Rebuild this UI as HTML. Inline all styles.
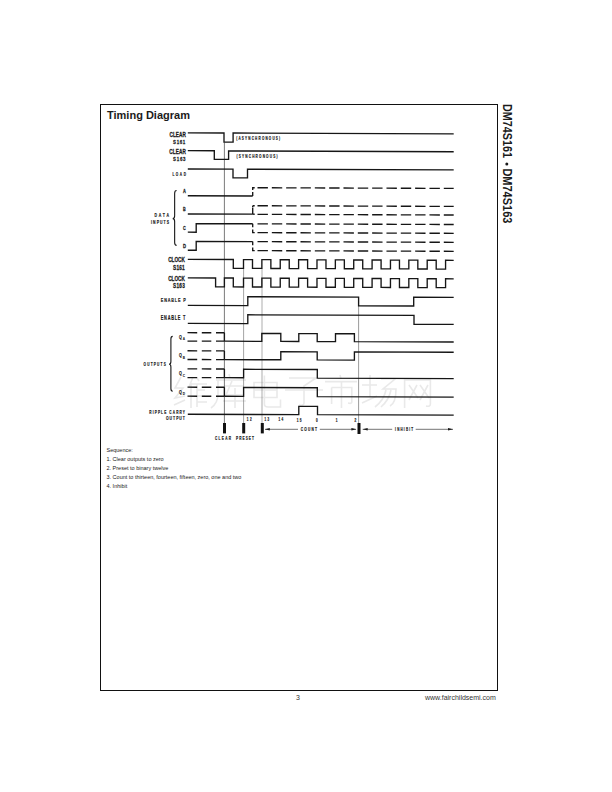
<!DOCTYPE html>
<html><head><meta charset="utf-8"><style>
html,body{margin:0;padding:0;background:#fff;}
body{width:612px;height:792px;position:relative;overflow:hidden;font-family:"Liberation Sans",sans-serif;}
.box{position:absolute;left:100px;top:104px;width:396px;height:585px;border:1px solid #111;}
.title{position:absolute;left:107px;top:107px;font-weight:bold;font-size:11px;line-height:16px;color:#1b1b1b;white-space:nowrap;}
.side{position:absolute;left:503px;top:104px;font-weight:bold;font-size:13px;color:#1b1b1b;white-space:nowrap;transform-origin:0 0;transform:translate(13px,0) rotate(90deg);line-height:13px;}
.seq{position:absolute;left:106.5px;font-size:5.5px;line-height:6px;color:#222;white-space:nowrap;}
.foot{position:absolute;font-size:7px;line-height:8px;color:#333;white-space:nowrap;}
svg{position:absolute;left:0;top:0;}
svg text{font-family:"Liberation Sans",sans-serif;}
</style></head><body>
<div class="box"></div>
<div class="title">Timing Diagram</div>
<svg width="612" height="792" viewBox="0 0 612 792">
<path d="M404.6,408 V380 H430.4 V404 Q430.4,407 426,406 M409,385 L418,398 M417,385 L409,400 M420,385 L429,398 M428,385 L420,400" fill="none" stroke="#e9e9e9" stroke-width="1.6"/>
<path d="M362,385 H377 M370,375 V397 M362,403 L377,396 M381,379 H395 L383,389 H396 Q396,403 390,406 M386,390 Q384,400 375,407 M391,390 Q389,400 381,407" fill="none" stroke="#e9e9e9" stroke-width="1.6"/>
<path d="M340,375 L341,379 M325,381.6 H357 M331.6,387.5 V404 M331.6,387.5 H351.8 V402 Q351.8,404 348,403 M341.5,381.6 V408" fill="none" stroke="#e9e9e9" stroke-width="1.6"/>
<path d="M289,378 H316 L304,386 V403 Q304,406 299,405 M285,390 H323" fill="none" stroke="#e9e9e9" stroke-width="1.6"/>
<path d="M254,382.5 H277 V397.5 H254 Z M254,390 H277 M264.4,375.5 V404 Q264.4,407 268,407 H280.5 V399.5" fill="none" stroke="#e9e9e9" stroke-width="1.6"/>
<path d="M229,374 L230,378 M216,380 H246 M218,380 V394 Q218,403 211,408 M224,386 H243 M232,381 L226,395 H243 M223,401 H246 M235,388 V408" fill="none" stroke="#e9e9e9" stroke-width="1.6"/>
<path d="M181,377 L175,388 L183,388 L175,398 L185,396 M174,405 L185,400 M193,377 L189,387 M191,383 V408 M197,378 L199,381 M191,384 H207 M197,384 V407 M197,390 H205 M197,396 H205 M197,402 H207" fill="none" stroke="#e9e9e9" stroke-width="1.6"/>
<path d="M224.4,142.5 V423" fill="none" stroke="#333" stroke-width="0.65" />
<path d="M243.6,268.5 V423" fill="none" stroke="#666" stroke-width="0.6" />
<path d="M262.0,268.5 V423" fill="none" stroke="#777" stroke-width="0.6" />
<path d="M358.6,305.5 V423" fill="none" stroke="#555" stroke-width="0.6" />
<g transform="matrix(1,0.0035,0,1,0,-0.7875)">
<path d="M187.80,133.00 L224.00,133.00 L224.00,142.10 L233.10,142.10 L233.10,133.00 L453.70,133.00" fill="none" stroke="#161616" stroke-width="1.35" />
<path d="M187.80,150.80 L214.30,150.80 L214.30,159.30 L228.60,159.30 L228.60,150.90 L453.70,150.90" fill="none" stroke="#161616" stroke-width="1.35" />
<path d="M187.80,169.10 L233.00,169.10 L233.00,177.80 L247.50,177.80 L247.50,169.10 L453.70,169.10" fill="none" stroke="#161616" stroke-width="1.35" />
<path d="M187.80,195.90 L252.70,195.90" fill="none" stroke="#161616" stroke-width="1.35" />
<path d="M252.7,195.9 V192 M252.7,190 V187.6 H254.7" fill="none" stroke="#161616" stroke-width="1.35" />
<path d="M257.50,187.60 H267.90 M271.83,187.60 H282.23 M286.16,187.60 H296.56 M300.49,187.60 H310.89 M314.82,187.60 H325.22 M329.15,187.60 H339.55 M343.48,187.60 H353.88 M357.81,187.60 H368.21 M372.14,187.60 H382.54 M386.47,187.60 H396.87 M400.80,187.60 H411.20 M415.13,187.60 H425.53 M429.46,187.60 H439.86 M443.79,187.60 H453.70" fill="none" stroke="#161616" stroke-width="1.35" />
<path d="M187.80,214.10 L252.70,214.10" fill="none" stroke="#161616" stroke-width="1.35" />
<path d="M252.7,214.1 V208 M252.7,205.6 H254.7 M252.7,205.6 V207.5" fill="none" stroke="#161616" stroke-width="1.35" />
<path d="M257.50,205.60 H267.90 M271.83,205.60 H282.23 M286.16,205.60 H296.56 M300.49,205.60 H310.89 M314.82,205.60 H325.22 M329.15,205.60 H339.55 M343.48,205.60 H353.88 M357.81,205.60 H368.21 M372.14,205.60 H382.54 M386.47,205.60 H396.87 M400.80,205.60 H411.20 M415.13,205.60 H425.53 M429.46,205.60 H439.86 M443.79,205.60 H453.70" fill="none" stroke="#161616" stroke-width="1.35" />
<path d="M257.50,214.20 H267.90 M271.83,214.20 H282.23 M286.16,214.20 H296.56 M300.49,214.20 H310.89 M314.82,214.20 H325.22 M329.15,214.20 H339.55 M343.48,214.20 H353.88 M357.81,214.20 H368.21 M372.14,214.20 H382.54 M386.47,214.20 H396.87 M400.80,214.20 H411.20 M415.13,214.20 H425.53 M429.46,214.20 H439.86 M443.79,214.20 H453.70" fill="none" stroke="#161616" stroke-width="1.35" />
<path d="M252.7,214.1 H254.7" fill="none" stroke="#161616" stroke-width="1.35" />
<path d="M187.80,232.30 L196.20,232.30 L196.20,223.70 L252.70,223.70" fill="none" stroke="#161616" stroke-width="1.35" />
<path d="M252.7,223.7 V227.2 M252.7,229.3 V232.5 H254.7" fill="none" stroke="#161616" stroke-width="1.35" />
<path d="M257.50,223.70 H267.90 M271.83,223.70 H282.23 M286.16,223.70 H296.56 M300.49,223.70 H310.89 M314.82,223.70 H325.22 M329.15,223.70 H339.55 M343.48,223.70 H353.88 M357.81,223.70 H368.21 M372.14,223.70 H382.54 M386.47,223.70 H396.87 M400.80,223.70 H411.20 M415.13,223.70 H425.53 M429.46,223.70 H439.86 M443.79,223.70 H453.70" fill="none" stroke="#161616" stroke-width="1.35" />
<path d="M257.50,232.50 H267.90 M271.83,232.50 H282.23 M286.16,232.50 H296.56 M300.49,232.50 H310.89 M314.82,232.50 H325.22 M329.15,232.50 H339.55 M343.48,232.50 H353.88 M357.81,232.50 H368.21 M372.14,232.50 H382.54 M386.47,232.50 H396.87 M400.80,232.50 H411.20 M415.13,232.50 H425.53 M429.46,232.50 H439.86 M443.79,232.50 H453.70" fill="none" stroke="#161616" stroke-width="1.35" />
<path d="M187.80,250.40 L196.20,250.40 L196.20,241.50 L252.70,241.50" fill="none" stroke="#161616" stroke-width="1.35" />
<path d="M252.7,241.5 V245.2 M252.7,247.3 V250.5 H254.7" fill="none" stroke="#161616" stroke-width="1.35" />
<path d="M257.50,241.50 H267.90 M271.83,241.50 H282.23 M286.16,241.50 H296.56 M300.49,241.50 H310.89 M314.82,241.50 H325.22 M329.15,241.50 H339.55 M343.48,241.50 H353.88 M357.81,241.50 H368.21 M372.14,241.50 H382.54 M386.47,241.50 H396.87 M400.80,241.50 H411.20 M415.13,241.50 H425.53 M429.46,241.50 H439.86 M443.79,241.50 H453.70" fill="none" stroke="#161616" stroke-width="1.35" />
<path d="M257.50,250.50 H267.90 M271.83,250.50 H282.23 M286.16,250.50 H296.56 M300.49,250.50 H310.89 M314.82,250.50 H325.22 M329.15,250.50 H339.55 M343.48,250.50 H353.88 M357.81,250.50 H368.21 M372.14,250.50 H382.54 M386.47,250.50 H396.87 M400.80,250.50 H411.20 M415.13,250.50 H425.53 M429.46,250.50 H439.86 M443.79,250.50 H453.70" fill="none" stroke="#161616" stroke-width="1.35" />
<path d="M187.80,259.50 L233.30,259.50 L233.30,268.30 L243.50,268.30 L243.50,259.50 L252.50,259.50 L252.50,268.30 L261.87,268.30 L261.87,259.50 L270.87,259.50 L270.87,268.30 L280.24,268.30 L280.24,259.50 L289.24,259.50 L289.24,268.30 L298.61,268.30 L298.61,259.50 L307.61,259.50 L307.61,268.30 L316.98,268.30 L316.98,259.50 L325.98,259.50 L325.98,268.30 L335.35,268.30 L335.35,259.50 L344.35,259.50 L344.35,268.30 L353.72,268.30 L353.72,259.50 L362.72,259.50 L362.72,268.30 L372.09,268.30 L372.09,259.50 L381.09,259.50 L381.09,268.30 L390.46,268.30 L390.46,259.50 L399.46,259.50 L399.46,268.30 L408.83,268.30 L408.83,259.50 L417.83,259.50 L417.83,268.30 L427.20,268.30 L427.20,259.50 L436.20,259.50 L436.20,268.30 L445.57,268.30 L445.57,259.50 L453.70,259.50" fill="none" stroke="#161616" stroke-width="1.35" />
<path d="M187.80,278.00 L215.60,278.00 L215.60,286.90 L224.40,286.90 L224.40,278.00 L233.30,278.00 L233.30,286.90 L243.50,286.90 L243.50,278.00 L252.50,278.00 L252.50,286.90 L261.87,286.90 L261.87,278.00 L270.87,278.00 L270.87,286.90 L280.24,286.90 L280.24,278.00 L289.24,278.00 L289.24,286.90 L298.61,286.90 L298.61,278.00 L307.61,278.00 L307.61,286.90 L316.98,286.90 L316.98,278.00 L325.98,278.00 L325.98,286.90 L335.35,286.90 L335.35,278.00 L344.35,278.00 L344.35,286.90 L353.72,286.90 L353.72,278.00 L362.72,278.00 L362.72,286.90 L372.09,286.90 L372.09,278.00 L381.09,278.00 L381.09,286.90 L390.46,286.90 L390.46,278.00 L399.46,278.00 L399.46,286.90 L408.83,286.90 L408.83,278.00 L417.83,278.00 L417.83,286.90 L427.20,286.90 L427.20,278.00 L436.20,278.00 L436.20,286.90 L445.57,286.90 L445.57,278.00 L453.70,278.00" fill="none" stroke="#161616" stroke-width="1.35" />
<path d="M187.80,305.50 L247.80,305.50 L247.80,296.60 L358.60,296.60 L358.60,305.30 L413.70,305.30 L413.70,296.60 L453.70,296.60" fill="none" stroke="#161616" stroke-width="1.35" />
<path d="M187.80,323.50 L247.80,323.50 L247.80,314.70 L414.00,314.70 L414.00,323.60 L453.70,323.60" fill="none" stroke="#161616" stroke-width="1.35" />
<path d="M187.50,332.80 H197.20 M201.80,332.80 H211.30 M216.00,332.80 H224.40" fill="none" stroke="#161616" stroke-width="1.35" />
<path d="M187.50,341.20 H197.20 M201.80,341.20 H211.30 M216.00,341.20 H224.40" fill="none" stroke="#161616" stroke-width="1.35" />
<path d="M224.4,332.8 V341.2" fill="none" stroke="#161616" stroke-width="1.35" />
<path d="M224.40,341.20 L261.80,341.20 L261.80,333.30 L280.80,333.30 L280.80,341.20 L298.80,341.20 L298.80,333.30 L317.20,333.30 L317.20,341.20 L335.50,341.20 L335.50,333.30 L354.40,333.30 L354.40,341.20 L453.70,341.20" fill="none" stroke="#161616" stroke-width="1.35" />
<path d="M187.50,350.90 H197.20 M201.80,350.90 H211.30 M216.00,350.90 H224.40" fill="none" stroke="#161616" stroke-width="1.35" />
<path d="M187.50,359.60 H197.20 M201.80,359.60 H211.30 M216.00,359.60 H224.40" fill="none" stroke="#161616" stroke-width="1.35" />
<path d="M224.4,350.9 V359.6" fill="none" stroke="#161616" stroke-width="1.35" />
<path d="M224.40,359.60 L280.80,359.60 L280.80,351.60 L317.20,351.60 L317.20,359.60 L354.40,359.60 L354.40,351.40 L453.70,351.40" fill="none" stroke="#161616" stroke-width="1.35" />
<path d="M187.50,369.00 H197.20 M201.80,369.00 H211.30 M216.00,369.00 H224.40" fill="none" stroke="#161616" stroke-width="1.35" />
<path d="M187.50,377.70 H197.20 M201.80,377.70 H211.30 M216.00,377.70 H224.40" fill="none" stroke="#161616" stroke-width="1.35" />
<path d="M224.4,369.0 V377.7" fill="none" stroke="#161616" stroke-width="1.35" />
<path d="M224.40,377.70 L243.60,377.70 L243.60,369.20 L317.30,369.20 L317.30,377.80 L453.70,377.80" fill="none" stroke="#161616" stroke-width="1.35" />
<path d="M187.50,387.30 H197.20 M201.80,387.30 H211.30 M216.00,387.30 H224.40" fill="none" stroke="#161616" stroke-width="1.35" />
<path d="M187.50,396.30 H197.20 M201.80,396.30 H211.30 M216.00,396.30 H224.40" fill="none" stroke="#161616" stroke-width="1.35" />
<path d="M224.4,387.3 V396.3" fill="none" stroke="#161616" stroke-width="1.35" />
<path d="M224.40,396.30 L243.60,396.30 L243.60,387.40 L317.30,387.40 L317.30,396.30 L453.70,396.30" fill="none" stroke="#161616" stroke-width="1.35" />
<path d="M187.80,414.40 L298.80,414.40 L298.80,406.10 L317.50,406.10 L317.50,414.30 L453.70,414.30" fill="none" stroke="#161616" stroke-width="1.35" />
</g>
<rect x="223.00" y="423.00" width="3.00" height="10.40" fill="#111"/>
<rect x="242.20" y="423.00" width="3.00" height="10.40" fill="#111"/>
<rect x="260.80" y="423.00" width="3.00" height="10.40" fill="#111"/>
<rect x="357.50" y="423.00" width="3.00" height="11.00" fill="#111"/>
<path d="M265,429.3 H298 M319.8,429.3 H356" fill="none" stroke="#161616" stroke-width="0.6" />
<path d="M264.80,429.30 L269.80,428.00 L269.80,430.60 Z" fill="#1b1b1b"/>
<path d="M356.40,429.30 L351.40,428.00 L351.40,430.60 Z" fill="#1b1b1b"/>
<path d="M362.7,429.3 H392.2 M415.7,429.3 H453" fill="none" stroke="#161616" stroke-width="0.6" />
<path d="M362.70,429.30 L367.70,428.00 L367.70,430.60 Z" fill="#1b1b1b"/>
<path d="M453.00,429.30 L448.00,428.00 L448.00,430.60 Z" fill="#1b1b1b"/>
<path d="M176.6,190.5 Q174.64999999999998,190.5 174.64999999999998,193.425 L174.64999999999998,215.67499999999998 Q174.64999999999998,218.6 172.7,218.6 Q174.64999999999998,218.6 174.64999999999998,221.525 L174.64999999999998,242.475 Q174.64999999999998,245.4 176.6,245.4" fill="none" stroke="#161616" stroke-width="1.1" />
<path d="M172.7,336.4 Q170.89999999999998,336.4 170.89999999999998,339.09999999999997 L170.89999999999998,361.5 Q170.89999999999998,364.2 169.1,364.2 Q170.89999999999998,364.2 170.89999999999998,366.9 L170.89999999999998,388.5 Q170.89999999999998,391.2 172.7,391.2" fill="none" stroke="#161616" stroke-width="1.1" />
<text transform="translate(503,103.9) rotate(90)" x="0" y="0" font-size="13.1" font-weight="bold" fill="#1b1b1b" textLength="54" lengthAdjust="spacingAndGlyphs">DM74S161</text>
<circle cx="506.8" cy="164" r="1.5" fill="#1b1b1b"/>
<text transform="translate(503,168.4) rotate(90)" x="0" y="0" font-size="13.1" font-weight="bold" fill="#1b1b1b" textLength="55" lengthAdjust="spacingAndGlyphs">DM74S163</text>
<text transform="translate(169.50,136.80) scale(0.72,1)" x="0" y="0" font-size="6.54" font-weight="bold" fill="#1b1b1b" stroke="#1b1b1b" stroke-width="0.28" textLength="22.64" lengthAdjust="spacing">CLEAR</text>
<text transform="translate(173.10,144.00) scale(0.72,1)" x="0" y="0" font-size="6.10" font-weight="bold" fill="#1b1b1b" stroke="#1b1b1b" stroke-width="0.28" textLength="16.94" lengthAdjust="spacing">S161</text>
<text transform="translate(169.30,153.80) scale(0.72,1)" x="0" y="0" font-size="6.54" font-weight="bold" fill="#1b1b1b" stroke="#1b1b1b" stroke-width="0.28" textLength="22.92" lengthAdjust="spacing">CLEAR</text>
<text transform="translate(173.10,161.00) scale(0.72,1)" x="0" y="0" font-size="6.10" font-weight="bold" fill="#1b1b1b" stroke="#1b1b1b" stroke-width="0.28" textLength="17.22" lengthAdjust="spacing">S163</text>
<text transform="translate(172.40,175.80) scale(0.6,1)" x="0" y="0" font-size="5.23" font-weight="bold" fill="#1b1b1b" stroke="#1b1b1b" stroke-width="0.22" textLength="22.50" lengthAdjust="spacing">LOAD</text>
<text transform="translate(183.00,193.00) scale(0.72,1)" x="0" y="0" font-size="5.52" font-weight="bold" fill="#1b1b1b" stroke="#1b1b1b" stroke-width="0.28" textLength="3.89" lengthAdjust="spacing">A</text>
<text transform="translate(183.00,211.00) scale(0.72,1)" x="0" y="0" font-size="5.09" font-weight="bold" fill="#1b1b1b" stroke="#1b1b1b" stroke-width="0.28" textLength="3.89" lengthAdjust="spacing">B</text>
<text transform="translate(183.00,230.00) scale(0.72,1)" x="0" y="0" font-size="5.23" font-weight="bold" fill="#1b1b1b" stroke="#1b1b1b" stroke-width="0.28" textLength="3.89" lengthAdjust="spacing">C</text>
<text transform="translate(183.00,248.00) scale(0.72,1)" x="0" y="0" font-size="5.81" font-weight="bold" fill="#1b1b1b" stroke="#1b1b1b" stroke-width="0.28" textLength="3.89" lengthAdjust="spacing">D</text>
<text transform="translate(154.60,217.30) scale(0.6,1)" x="0" y="0" font-size="5.81" font-weight="bold" fill="#1b1b1b" stroke="#1b1b1b" stroke-width="0.22" textLength="24.00" lengthAdjust="spacing">DATA</text>
<text transform="translate(151.10,223.80) scale(0.6,1)" x="0" y="0" font-size="5.67" font-weight="bold" fill="#1b1b1b" stroke="#1b1b1b" stroke-width="0.22" textLength="29.83" lengthAdjust="spacing">INPUTS</text>
<text transform="translate(168.20,262.30) scale(0.72,1)" x="0" y="0" font-size="6.54" font-weight="bold" fill="#1b1b1b" stroke="#1b1b1b" stroke-width="0.28" textLength="23.06" lengthAdjust="spacing">CLOCK</text>
<text transform="translate(173.00,269.60) scale(0.72,1)" x="0" y="0" font-size="6.69" font-weight="bold" fill="#1b1b1b" stroke="#1b1b1b" stroke-width="0.28" textLength="16.39" lengthAdjust="spacing">S161</text>
<text transform="translate(168.20,281.00) scale(0.72,1)" x="0" y="0" font-size="6.54" font-weight="bold" fill="#1b1b1b" stroke="#1b1b1b" stroke-width="0.28" textLength="23.06" lengthAdjust="spacing">CLOCK</text>
<text transform="translate(173.00,288.20) scale(0.72,1)" x="0" y="0" font-size="6.54" font-weight="bold" fill="#1b1b1b" stroke="#1b1b1b" stroke-width="0.28" textLength="16.39" lengthAdjust="spacing">S163</text>
<text transform="translate(160.80,301.80) scale(0.6,1)" x="0" y="0" font-size="6.25" font-weight="bold" fill="#1b1b1b" stroke="#1b1b1b" stroke-width="0.22" textLength="41.50" lengthAdjust="spacing">ENABLE P</text>
<text transform="translate(160.80,320.40) scale(0.6,1)" x="0" y="0" font-size="6.40" font-weight="bold" fill="#1b1b1b" stroke="#1b1b1b" stroke-width="0.22" textLength="40.83" lengthAdjust="spacing">ENABLE T</text>
<text transform="translate(178.90,338.70) scale(0.7,1)" x="0" y="0" font-size="5.23" font-weight="bold" fill="#1b1b1b" stroke="#1b1b1b" stroke-width="0.2" textLength="5.00" lengthAdjust="spacing">Q</text>
<text transform="translate(182.70,340.40) scale(0.75,1)" x="0" y="0" font-size="4.22" font-weight="bold" fill="#1b1b1b" stroke="#1b1b1b" stroke-width="0.1" textLength="3.33" lengthAdjust="spacing">A</text>
<text transform="translate(178.90,357.20) scale(0.7,1)" x="0" y="0" font-size="5.23" font-weight="bold" fill="#1b1b1b" stroke="#1b1b1b" stroke-width="0.2" textLength="5.00" lengthAdjust="spacing">Q</text>
<text transform="translate(182.70,358.90) scale(0.75,1)" x="0" y="0" font-size="4.22" font-weight="bold" fill="#1b1b1b" stroke="#1b1b1b" stroke-width="0.1" textLength="3.33" lengthAdjust="spacing">B</text>
<text transform="translate(178.90,375.20) scale(0.7,1)" x="0" y="0" font-size="5.23" font-weight="bold" fill="#1b1b1b" stroke="#1b1b1b" stroke-width="0.2" textLength="5.00" lengthAdjust="spacing">Q</text>
<text transform="translate(182.70,376.90) scale(0.75,1)" x="0" y="0" font-size="4.22" font-weight="bold" fill="#1b1b1b" stroke="#1b1b1b" stroke-width="0.1" textLength="3.33" lengthAdjust="spacing">C</text>
<text transform="translate(178.90,393.60) scale(0.7,1)" x="0" y="0" font-size="5.23" font-weight="bold" fill="#1b1b1b" stroke="#1b1b1b" stroke-width="0.2" textLength="5.00" lengthAdjust="spacing">Q</text>
<text transform="translate(182.70,395.30) scale(0.75,1)" x="0" y="0" font-size="4.22" font-weight="bold" fill="#1b1b1b" stroke="#1b1b1b" stroke-width="0.1" textLength="3.33" lengthAdjust="spacing">D</text>
<text transform="translate(143.60,366.20) scale(0.6,1)" x="0" y="0" font-size="5.23" font-weight="bold" fill="#1b1b1b" stroke="#1b1b1b" stroke-width="0.22" textLength="37.00" lengthAdjust="spacing">OUTPUTS</text>
<text transform="translate(149.30,413.70) scale(0.6,1)" x="0" y="0" font-size="5.23" font-weight="bold" fill="#1b1b1b" stroke="#1b1b1b" stroke-width="0.22" textLength="59.33" lengthAdjust="spacing">RIPPLE CARRY</text>
<text transform="translate(166.00,420.10) scale(0.6,1)" x="0" y="0" font-size="5.67" font-weight="bold" fill="#1b1b1b" stroke="#1b1b1b" stroke-width="0.22" textLength="31.50" lengthAdjust="spacing">OUTPUT</text>
<text transform="translate(236.20,139.90) scale(0.6,1)" x="0" y="0" font-size="5.09" font-weight="bold" fill="#1b1b1b" stroke="#1b1b1b" stroke-width="0.22" textLength="73.17" lengthAdjust="spacing">(ASYNCHRONOUS)</text>
<text transform="translate(236.50,157.80) scale(0.6,1)" x="0" y="0" font-size="5.23" font-weight="bold" fill="#1b1b1b" stroke="#1b1b1b" stroke-width="0.22" textLength="68.33" lengthAdjust="spacing">(SYNCHRONOUS)</text>
<text transform="translate(246.80,421.00) scale(0.6,1)" x="0" y="0" font-size="4.94" font-weight="bold" fill="#1b1b1b" stroke="#1b1b1b" stroke-width="0.22" textLength="8.00" lengthAdjust="spacing">12</text>
<text transform="translate(264.50,420.80) scale(0.6,1)" x="0" y="0" font-size="4.80" font-weight="bold" fill="#1b1b1b" stroke="#1b1b1b" stroke-width="0.22" textLength="7.83" lengthAdjust="spacing">13</text>
<text transform="translate(278.50,421.00) scale(0.6,1)" x="0" y="0" font-size="4.94" font-weight="bold" fill="#1b1b1b" stroke="#1b1b1b" stroke-width="0.22" textLength="7.83" lengthAdjust="spacing">14</text>
<text transform="translate(296.70,421.60) scale(0.6,1)" x="0" y="0" font-size="5.23" font-weight="bold" fill="#1b1b1b" stroke="#1b1b1b" stroke-width="0.22" textLength="8.17" lengthAdjust="spacing">15</text>
<text transform="translate(315.90,421.80) scale(0.6,1)" x="0" y="0" font-size="5.09" font-weight="bold" fill="#1b1b1b" stroke="#1b1b1b" stroke-width="0.22" textLength="4.83" lengthAdjust="spacing">0</text>
<text transform="translate(335.80,421.80) scale(0.6,1)" x="0" y="0" font-size="5.09" font-weight="bold" fill="#1b1b1b" stroke="#1b1b1b" stroke-width="0.22" textLength="2.83" lengthAdjust="spacing">1</text>
<text transform="translate(354.50,421.60) scale(0.6,1)" x="0" y="0" font-size="5.23" font-weight="bold" fill="#1b1b1b" stroke="#1b1b1b" stroke-width="0.22" textLength="3.83" lengthAdjust="spacing">2</text>
<text transform="translate(300.80,431.30) scale(0.6,1)" x="0" y="0" font-size="5.38" font-weight="bold" fill="#1b1b1b" stroke="#1b1b1b" stroke-width="0.22" textLength="27.00" lengthAdjust="spacing">COUNT</text>
<text transform="translate(395.10,431.40) scale(0.6,1)" x="0" y="0" font-size="4.94" font-weight="bold" fill="#1b1b1b" stroke="#1b1b1b" stroke-width="0.22" textLength="30.00" lengthAdjust="spacing">INHIBIT</text>
<text transform="translate(215.00,439.90) scale(0.6,1)" x="0" y="0" font-size="5.23" font-weight="bold" fill="#1b1b1b" stroke="#1b1b1b" stroke-width="0.22" textLength="26.83" lengthAdjust="spacing">CLEAR</text>
<text transform="translate(236.00,439.90) scale(0.6,1)" x="0" y="0" font-size="5.23" font-weight="bold" fill="#1b1b1b" stroke="#1b1b1b" stroke-width="0.22" textLength="29.83" lengthAdjust="spacing">PRESET</text>
</svg>
<div class="seq" style="top:447px">Sequence:</div>
<div class="seq" style="top:456px">1. Clear outputs to zero</div>
<div class="seq" style="top:465px">2. Preset to binary twelve</div>
<div class="seq" style="top:474px">3. Count to thirteen, fourteen, fifteen, zero, one and two</div>
<div class="seq" style="top:483px">4. Inhibit</div>
<div class="foot" style="left:296px;top:694px">3</div>
<div class="foot" style="left:425px;top:694px">www.fairchildsemi.com</div>
</body></html>
